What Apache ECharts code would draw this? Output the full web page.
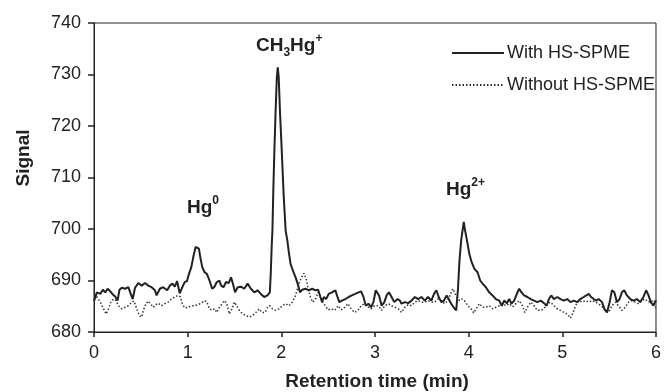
<!DOCTYPE html>
<html><head><meta charset="utf-8">
<script src="https://cdn.jsdelivr.net/npm/echarts@6/dist/echarts.min.js"></script>
<style>html,body{margin:0;padding:0;background:#fff}#c{width:664px;height:392px}</style>
</head><body><div id="c"></div>
<script>
// Retention time (min) and signal for trace "With HS-SPME"
const withTimes = [0.000,0.031,0.067,0.095,0.120,0.145,0.173,0.201,0.226,0.251,0.272,0.297,0.332,0.367,0.392,0.413,0.438,0.473,0.509,0.544,0.579,0.615,0.650,0.668,0.703,0.738,0.781,0.809,0.837,0.862,0.887,0.915,0.943,0.968,0.993,1.014,1.039,1.064,1.085,1.099,1.120,1.138,1.156,1.180,1.205,1.233,1.262,1.286,1.311,1.339,1.357,1.382,1.410,1.438,1.463,1.481,1.506,1.534,1.569,1.604,1.640,1.675,1.711,1.746,1.781,1.817,1.852,1.877,1.887,1.898,1.905,1.915,1.926,1.940,1.952,1.962,1.972,1.985,2.004,2.025,2.046,2.064,2.082,2.099,2.124,2.152,2.181,2.198,2.223,2.258,2.294,2.329,2.364,2.393,2.417,2.435,2.453,2.478,2.506,2.541,2.577,2.594,2.619,2.647,2.683,2.718,2.753,2.789,2.824,2.852,2.877,2.902,2.930,2.958,2.983,3.008,3.043,3.071,3.100,3.124,3.149,3.177,3.206,3.241,3.266,3.283,3.319,3.354,3.390,3.425,3.460,3.496,3.531,3.566,3.602,3.630,3.655,3.680,3.708,3.736,3.765,3.786,3.814,3.842,3.867,3.885,3.902,3.920,3.937,3.948,3.961,3.982,4.007,4.031,4.060,4.095,4.123,4.148,4.184,4.219,4.255,4.290,4.326,4.354,4.379,4.408,4.433,4.457,4.486,4.514,4.539,4.564,4.592,4.627,4.663,4.698,4.733,4.769,4.804,4.832,4.857,4.882,4.910,4.946,4.981,5.017,5.052,5.087,5.123,5.158,5.193,5.229,5.257,5.282,5.307,5.335,5.363,5.388,5.424,5.449,5.477,5.505,5.530,5.555,5.583,5.611,5.636,5.661,5.690,5.725,5.760,5.796,5.831,5.866,5.895,5.920,5.944,5.973,5.994,6.000];
const withSignal = [686.0,687.7,687.4,688.2,687.7,688.4,687.9,687.3,686.9,686.1,688.2,688.6,688.4,688.7,687.4,686.4,688.6,689.5,689.0,689.5,689.0,688.7,688.1,687.1,688.4,688.7,688.1,689.0,689.4,688.8,689.9,687.5,688.7,689.7,689.9,691.3,692.6,694.9,696.5,696.8,696.2,694.2,692.6,691.6,691.3,690.0,688.4,688.8,689.7,690.0,689.0,688.7,689.7,689.5,690.6,689.5,687.7,688.7,688.8,688.4,689.4,688.4,687.7,688.1,687.4,686.8,687.1,687.7,691.3,697.1,699.7,708.0,715.4,723.5,729.5,731.4,729.5,723.0,715.4,706.5,699.7,697.8,695.2,693.2,691.9,690.6,689.0,687.7,688.2,688.4,688.1,688.4,688.1,688.2,686.8,685.8,686.8,686.4,687.4,687.7,688.1,687.1,685.8,686.1,686.4,686.8,687.1,687.4,687.7,687.9,686.8,685.1,685.5,684.8,685.8,688.1,687.1,685.1,685.8,687.1,687.7,686.8,685.8,686.4,686.1,685.5,685.8,685.6,686.1,686.8,686.4,686.8,686.1,686.8,686.1,687.4,688.1,686.8,685.8,686.1,687.1,686.8,685.5,684.7,684.2,688.1,693.9,697.8,700.0,701.4,699.8,697.8,695.2,693.6,692.3,691.6,690.0,689.4,688.7,687.7,687.1,686.4,686.1,685.1,686.1,685.6,686.4,685.5,686.1,687.4,688.4,687.7,687.1,686.8,686.4,686.1,685.8,686.1,685.6,685.1,686.4,687.1,686.4,686.8,686.4,686.1,686.4,685.8,686.1,685.8,686.4,686.8,687.1,687.4,686.8,686.4,686.1,686.4,685.8,684.5,683.8,685.8,688.1,687.7,685.8,686.4,687.7,688.1,687.1,686.4,686.1,686.4,685.8,686.8,688.1,687.1,685.8,685.1,686.1,685.8];
// Trace "Without HS-SPME"
const withoutTimes = [0.003,0.031,0.067,0.102,0.130,0.155,0.180,0.208,0.236,0.261,0.297,0.332,0.367,0.403,0.427,0.456,0.484,0.509,0.526,0.555,0.579,0.604,0.632,0.661,0.685,0.721,0.756,0.791,0.827,0.862,0.897,0.922,0.943,0.968,1.004,1.039,1.074,1.110,1.145,1.180,1.205,1.233,1.262,1.286,1.311,1.339,1.368,1.392,1.417,1.445,1.474,1.498,1.523,1.551,1.587,1.622,1.657,1.693,1.728,1.764,1.792,1.827,1.852,1.877,1.905,1.940,1.976,2.011,2.046,2.082,2.117,2.152,2.188,2.216,2.241,2.266,2.287,2.311,2.336,2.364,2.393,2.417,2.442,2.470,2.499,2.534,2.569,2.605,2.640,2.676,2.711,2.746,2.781,2.817,2.852,2.888,2.923,2.958,2.994,3.036,3.071,3.106,3.142,3.177,3.213,3.248,3.283,3.319,3.354,3.390,3.425,3.460,3.496,3.531,3.566,3.602,3.637,3.672,3.708,3.743,3.778,3.807,3.832,3.857,3.878,3.902,3.927,3.955,3.991,4.026,4.054,4.079,4.115,4.150,4.185,4.221,4.256,4.291,4.327,4.362,4.398,4.433,4.468,4.504,4.539,4.574,4.599,4.627,4.663,4.698,4.733,4.769,4.804,4.839,4.875,4.910,4.946,4.981,5.017,5.052,5.087,5.116,5.140,5.176,5.211,5.246,5.282,5.317,5.353,5.388,5.424,5.459,5.494,5.530,5.565,5.600,5.636,5.671,5.707,5.742,5.777,5.813,5.848,5.883,5.919,5.954,5.989,6.000];
const withoutSignal = [687.4,686.8,685.8,684.5,683.5,684.5,685.8,686.4,686.1,685.1,684.5,684.8,685.1,685.8,686.0,684.5,683.2,682.9,684.2,685.5,686.0,685.5,684.8,685.3,685.6,685.1,685.5,685.8,686.4,686.8,687.1,686.8,685.5,684.7,684.8,685.1,685.1,685.3,685.6,686.1,685.8,684.5,684.2,684.5,683.8,684.8,685.5,686.1,685.5,683.5,684.5,685.8,685.1,684.2,683.5,683.2,682.9,683.2,683.8,684.5,683.8,683.8,684.8,685.1,684.5,684.2,684.5,685.1,685.5,685.1,685.8,687.1,689.4,690.6,691.4,690.3,688.4,686.8,685.8,686.4,687.7,686.8,685.8,685.1,684.3,684.5,684.2,685.1,684.3,684.8,685.5,684.5,683.8,684.2,685.1,685.5,684.9,684.5,685.1,685.1,684.2,685.1,685.5,685.1,684.8,684.5,683.8,684.8,685.3,685.1,685.8,686.1,685.8,685.8,686.1,685.8,685.8,686.4,686.1,685.5,686.1,687.4,688.4,687.4,686.8,686.1,686.4,686.1,685.1,684.5,683.7,684.5,685.5,684.8,684.8,685.1,684.5,684.8,685.1,685.5,685.1,685.5,684.9,685.5,686.1,685.1,683.8,684.8,685.8,685.1,684.2,684.2,684.5,685.5,685.8,685.1,684.5,684.2,683.8,683.5,682.7,683.8,685.1,686.1,685.8,686.1,685.8,686.1,685.8,685.5,684.9,684.2,683.8,685.1,685.8,685.1,684.2,684.8,685.8,686.1,685.8,685.5,686.1,686.4,685.8,686.1,685.1,684.6];
const seriesNames = ['With HS-SPME', 'Without HS-SPME'];
const xTicks = [0, 1, 2, 3, 4, 5, 6];
const yTicks = [680, 690, 700, 710, 720, 730, 740];

const FONT = '"Liberation Sans", Arial, Helvetica, sans-serif';
const INK = '#222';
const zip = (a, b) => a.map((t, i) => [t, b[i]]);

const chart = echarts.init(document.getElementById('c'), null, {renderer: 'canvas'});
chart.setOption({
  animation: false,
  backgroundColor: '#fff',
  grid: {left: 94, right: 4, top: 23, bottom: 60, show: true, borderColor: INK, borderWidth: 1, backgroundColor: 'transparent'},
  legend: {
    orient: 'vertical', left: 451, top: 44, padding: 0, itemWidth: 52, itemHeight: 14, itemGap: 14,
    itemStyle: {opacity: 0, borderWidth: 0},
    textStyle: {fontFamily: FONT, fontSize: 18, color: INK, padding: [0, 0, 0, -2]},
    data: seriesNames
  },
  xAxis: {
    type: 'value', min: xTicks[0], max: xTicks[xTicks.length - 1], interval: 1,
    axisLine: {show: true, onZero: false, lineStyle: {color: INK, width: 1}},
    axisTick: {show: true, length: 5, lineStyle: {color: INK, width: 1.5}},
    axisLabel: {fontFamily: FONT, fontSize: 18, color: INK, margin: 12},
    splitLine: {show: false}
  },
  yAxis: {
    type: 'value', min: yTicks[0], max: yTicks[yTicks.length - 1], interval: 10,
    axisLine: {show: true, onZero: false, lineStyle: {color: INK, width: 1}},
    axisTick: {show: true, length: 6, lineStyle: {color: INK, width: 1.5}},
    axisLabel: {fontFamily: FONT, fontSize: 18, color: INK, margin: 13},
    splitLine: {show: false}
  },
  graphic: [
    {type: 'text', x: 24, y: 158, rotation: Math.PI / 2,
      style: {text: 'Signal', font: 'bold 19px ' + FONT, fill: INK, textAlign: 'center', textVerticalAlign: 'middle', align: 'center', verticalAlign: 'middle'}},
    {type: 'text', x: 377, y: 382,
      style: {text: 'Retention time (min)', font: 'bold 19px ' + FONT, fill: INK, textAlign: 'center', textVerticalAlign: 'middle', align: 'center', verticalAlign: 'middle'}},
    {type: 'text', x: 256, y: 46,
      style: {text: '{b|CH}{s|3}{b|Hg}{p|+}', fill: INK, textAlign: 'left', textVerticalAlign: 'middle', align: 'left', verticalAlign: 'middle',
        rich: {b: {font: 'bold 19px ' + FONT, fill: INK, lineHeight: 26}, s: {font: 'bold 12px ' + FONT, fill: INK, verticalAlign: 'bottom', lineHeight: 26}, p: {font: 'bold 12px ' + FONT, fill: INK, verticalAlign: 'top', lineHeight: 26}}}},
    {type: 'text', x: 187, y: 208,
      style: {text: '{b|Hg}{p|0}', fill: INK, textAlign: 'left', textVerticalAlign: 'middle', align: 'left', verticalAlign: 'middle',
        rich: {b: {font: 'bold 19px ' + FONT, fill: INK, lineHeight: 26}, p: {font: 'bold 12px ' + FONT, fill: INK, verticalAlign: 'top', lineHeight: 26}}}},
    {type: 'text', x: 446, y: 190,
      style: {text: '{b|Hg}{p|2+}', fill: INK, textAlign: 'left', textVerticalAlign: 'middle', align: 'left', verticalAlign: 'middle',
        rich: {b: {font: 'bold 19px ' + FONT, fill: INK, lineHeight: 26}, p: {font: 'bold 12px ' + FONT, fill: INK, verticalAlign: 'top', lineHeight: 26}}}}
  ],
  series: [
    {name: seriesNames[0], type: 'line', data: zip(withTimes, withSignal), symbol: 'none', smooth: false,
      lineStyle: {color: INK, width: 2}, itemStyle: {color: INK}, z: 3},
    {name: seriesNames[1], type: 'line', data: zip(withoutTimes, withoutSignal), symbol: 'none', smooth: false,
      lineStyle: {color: '#333', width: 1.5, type: [1.5, 2]}, itemStyle: {color: '#333'}, z: 2}
  ]
});
</script>
</body></html>
